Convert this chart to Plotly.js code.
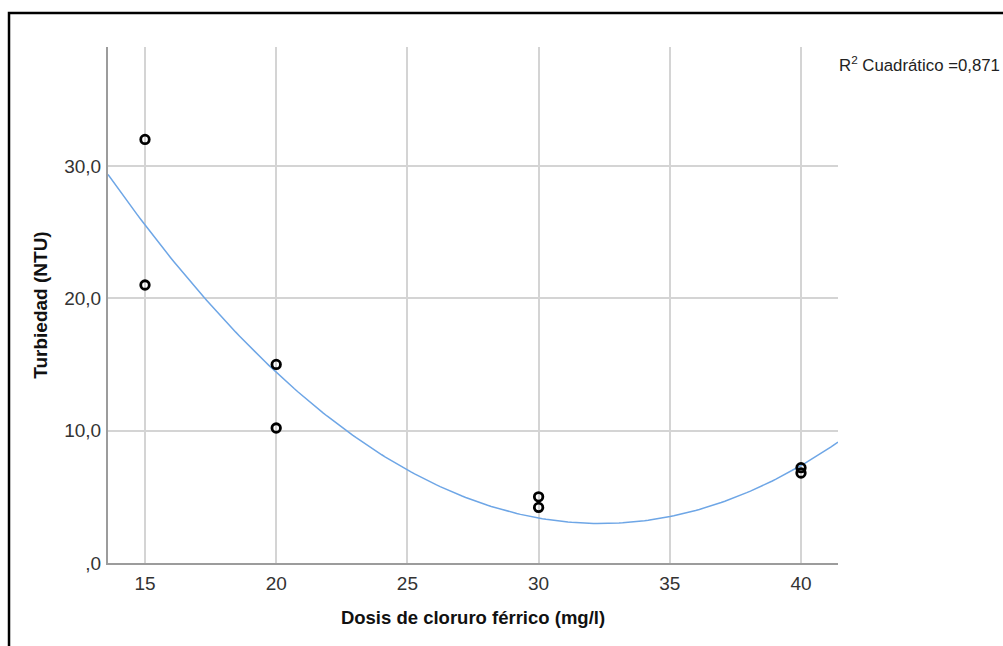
<!DOCTYPE html>
<html>
<head>
<meta charset="utf-8">
<script src="https://cdn.plot.ly/plotly-3.0.1.min.js"></script>
<style>
html,body{margin:0;padding:0;background:#fff;overflow:hidden;}
#chart{width:1003px;height:646px;}
</style>
</head>
<body>
<div id="chart"></div>
<script>
// Data
const dosis = [15, 15, 20, 20, 30, 30, 40, 40];
const turbiedad = [32.0, 21.0, 15.0, 10.2, 5.0, 4.2, 7.2, 6.8];
const xTickVals = [15, 20, 25, 30, 35, 40];
const xTickText = ['15', '20', '25', '30', '35', '40'];
const yTickVals = [0, 10, 20, 30];
const yTickText = [',0', '10,0', '20,0', '30,0'];
const r2Label = 'R<sup>2</sup> Cuadrático =0,871';

// Quadratic least-squares fit computed from the data
function quadFit(xs, ys) {
  let n = xs.length, S = [0,0,0,0,0], T = [0,0,0];
  for (let i = 0; i < n; i++) {
    let p = 1;
    for (let k = 0; k < 5; k++) { S[k] += p; if (k < 3) T[k] += p * ys[i]; p *= xs[i]; }
  }
  const A = [[S[0],S[1],S[2],T[0]],[S[1],S[2],S[3],T[1]],[S[2],S[3],S[4],T[2]]];
  for (let c = 0; c < 3; c++) {
    for (let r = c + 1; r < 3; r++) {
      const f = A[r][c] / A[c][c];
      for (let k = c; k < 4; k++) A[r][k] -= f * A[c][k];
    }
  }
  const b = [0,0,0];
  for (let r = 2; r >= 0; r--) {
    let s = A[r][3];
    for (let k = r + 1; k < 3; k++) s -= A[r][k] * b[k];
    b[r] = s / A[r][r];
  }
  return b;
}
const coef = quadFit(dosis, turbiedad);
const xMin = 13.59, xMax = 41.41;
const fitX = [], fitY = [];
for (let i = 0; i <= 200; i++) {
  const x = xMin + (xMax - xMin) * i / 200;
  fitX.push(x);
  fitY.push(coef[0] + coef[1] * x + coef[2] * x * x);
}

const font = 'Liberation Sans, Arial, sans-serif';
const traces = [
  {x: fitX, y: fitY, mode: 'lines', line: {color: '#6ea6e6', width: 1.5}, hoverinfo: 'skip', showlegend: false},
  {x: dosis, y: turbiedad, mode: 'markers', marker: {symbol: 'circle-open', size: 8.5, color: '#000', line: {width: 2.8, color: '#000'}}, showlegend: false}
];
const layout = {
  width: 1003, height: 646,
  margin: {l: 108, r: 165, t: 47, b: 83},
  paper_bgcolor: '#fff', plot_bgcolor: '#fff',
  font: {family: font, size: 18, color: '#222'},
  xaxis: {
    range: [xMin, xMax], tickvals: xTickVals, ticktext: xTickText,
    showgrid: true, gridcolor: '#d4d4d4', gridwidth: 2,
    showline: true, linecolor: '#9c9c9c', linewidth: 2,
    zeroline: false, ticks: 'outside', ticklen: 2, tickcolor: 'rgba(0,0,0,0)',
    tickfont: {family: font, size: 19, color: '#333'},
    title: {text: 'Dosis de cloruro férrico (mg/l)', font: {family: font, size: 18.5, color: '#111', weight: 'bold'}, standoff: 18},
    automargin: false
  },
  yaxis: {
    range: [0, 38.98], tickvals: yTickVals, ticktext: yTickText,
    showgrid: true, gridcolor: '#d4d4d4', gridwidth: 2,
    showline: true, linecolor: '#9c9c9c', linewidth: 2,
    zeroline: false, ticks: 'outside', ticklen: 1, tickcolor: 'rgba(0,0,0,0)',
    tickfont: {family: font, size: 19, color: '#333'},
    title: {text: 'Turbiedad (NTU)', font: {family: font, size: 19, color: '#111', weight: 'bold'}, standoff: 12},
    automargin: false
  },
  annotations: [{
    xref: 'paper', yref: 'paper', x: 0.998, y: 0.968, xanchor: 'left', yanchor: 'middle',
    text: r2Label, showarrow: false, font: {family: font, size: 16.8, color: '#222'}
  }],
  shapes: [{
    type: 'rect', xref: 'paper', yref: 'paper',
    x0: -0.1356, x1: 1.5, y0: -0.4, y1: 1.0659,
    line: {color: '#000', width: 2.5}, fillcolor: 'rgba(0,0,0,0)', layer: 'below'
  }]
};
Plotly.newPlot('chart', traces, layout, {displayModeBar: false, staticPlot: true});
</script>
</body>
</html>
